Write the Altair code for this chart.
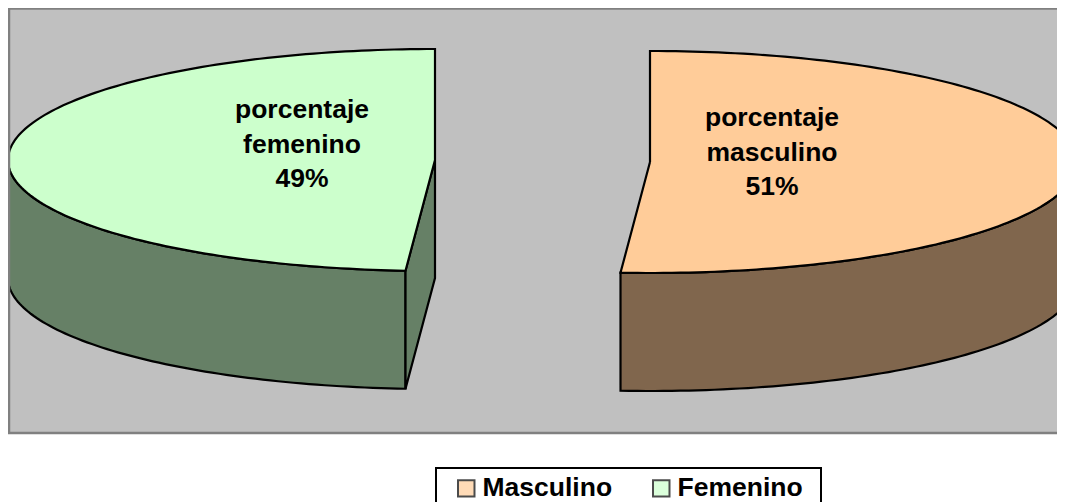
import math
import altair as alt
import pandas as pd

names = ["Masculino", "Femenino"]
shares = [51.1, 48.9]
label_stems = ["porcentaje masculino", "porcentaje femenino"]
top_colors = ["#FFCC99", "#CCFFCC"]
wall_colors = ["#80664D", "#668066"]

W, H = 1049, 425
RX, RY, DEPTH = 427, 111, 118
CENTER_M = (642, 154)
CENTER_F = (427, 152)
FONT = "Liberation Sans"
N = 160


def rim(cx, cy, start, end, dy=0):
    pts = []
    for k in range(N + 1):
        a = math.radians(start + (end - start) * k / N)
        pts.append((cx + RX * math.sin(a), cy - RY * math.cos(a) + dy))
    return pts


def face(name, fill, pts):
    return [{"face": name, "fill": fill, "i": i, "x": p[0], "y": p[1]} for i, p in enumerate(pts)]


sweep_m = 360 * shares[0] / 100
sweep_f = 360 * shares[1] / 100

# Masculine slice runs clockwise from 12 o'clock, feminine one counter-clockwise.
m_rim = rim(*CENTER_M, 0, sweep_m)
f_rim = rim(*CENTER_F, 0, -sweep_f)

m_front = [p for p, k in zip(m_rim, range(N + 1)) if sweep_m * k / N >= 90]
f_front = [p for p, k in zip(f_rim, range(N + 1)) if sweep_f * k / N >= 90]

walls = []
walls += face("m_wall", wall_colors[0],
              m_front + [(x, y + DEPTH) for x, y in reversed(m_front)] + [m_front[0]])
walls += face("f_wall", wall_colors[1],
              f_front + [(x, y + DEPTH) for x, y in reversed(f_front)] + [f_front[0]])
fe = f_rim[-1]
walls += face("f_cut", wall_colors[1],
              [CENTER_F, fe, (fe[0], fe[1] + DEPTH), (CENTER_F[0], CENTER_F[1] + DEPTH), CENTER_F])

tops = []
tops += face("m_top", top_colors[0], [CENTER_M] + m_rim + [CENTER_M])
tops += face("f_top", top_colors[1], [CENTER_F] + f_rim + [CENTER_F])

x_scale = alt.Scale(domain=[0, W], nice=False, zero=False)
y_scale = alt.Scale(domain=[H, 0], nice=False, zero=False)
X = alt.X("x:Q", scale=x_scale, axis=None)
Y = alt.Y("y:Q", scale=y_scale, axis=None)


def faces(rows):
    return alt.Chart(pd.DataFrame(rows)).mark_line(
        stroke="black", strokeWidth=2.2, clip=True, strokeJoin="miter", interpolate="linear"
    ).encode(
        x=X, y=Y,
        fill=alt.Fill("fill:N", scale=None, legend=None),
        detail="face:N",
        order="i:Q",
    )


legend_df = pd.DataFrame({"name": names, "x": [0, 0], "y": [0, 0]})
legend_layer = alt.Chart(legend_df).mark_square(size=0).encode(
    x=X, y=Y,
    fill=alt.Fill(
        "name:N",
        scale=alt.Scale(domain=names, range=top_colors),
        legend=alt.Legend(
            title=None, orient="none", legendX=445, legendY=467, direction="horizontal",
            columns=2, columnPadding=35, padding=0,
            symbolType="square", symbolSize=272, symbolStrokeColor="black", symbolStrokeWidth=2,
            labelFont=FONT, labelFontSize=26.5, labelFontWeight="bold", labelColor="black",
            labelLimit=300, labelOffset=3,
        ),
    ),
)

labels = pd.DataFrame({
    "text": [[*label_stems[0].split(" "), f"{round(shares[0])}%"],
             [*label_stems[1].split(" "), f"{round(shares[1])}%"]],
    "x": [CENTER_M[0] + 122, CENTER_F[0] - 133],
    "y": [CENTER_M[1] - 44, CENTER_F[1] - 50],
})
label_layer = alt.Chart(labels).mark_text(
    font=FONT, fontSize=26.5, fontWeight="bold", color="black", lineHeight=34.5, align="center", baseline="middle"
).encode(x=X, y=Y, text="text:N")

border = alt.Chart(pd.DataFrame({"a": [0]}))
rules = [
    border.mark_rule(color="#808080", strokeWidth=2.5).encode(x=alt.value(1), y=alt.value(0), y2=alt.value(H + 1)),
    border.mark_rule(color="#808080", strokeWidth=2.5).encode(x=alt.value(0), x2=alt.value(W), y=alt.value(0.6)),
    border.mark_rule(color="#808080", strokeWidth=2.5).encode(x=alt.value(0), x2=alt.value(W), y=alt.value(H)),
]
legend_box = border.mark_rect(fill="white", stroke="black", strokeWidth=2).encode(
    x=alt.value(428), x2=alt.value(813), y=alt.value(460), y2=alt.value(505)
)

chart = alt.layer(legend_layer, legend_box, faces(walls), faces(tops), label_layer, *rules).properties(
    width=W, height=H,
    autosize=alt.AutoSizeParams(type="none"),
    padding={"left": 0, "top": 0, "right": 0, "bottom": 69},
).resolve_scale(fill="independent").configure_view(fill="#C0C0C0", stroke=None)

chart.save("out.html", embed_options={"renderer": "svg", "actions": False})
